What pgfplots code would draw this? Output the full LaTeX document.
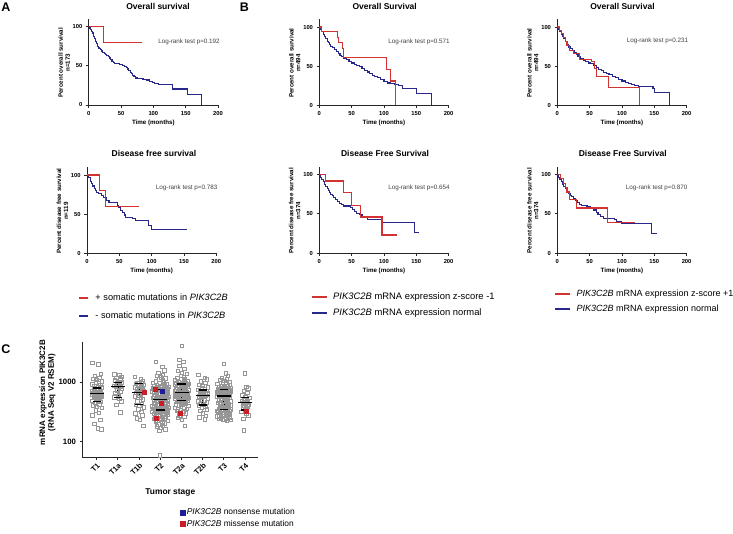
\documentclass[border=0pt]{standalone}
\usepackage{fontspec}
\setmainfont{Liberation Sans}
\usepackage{pgfplots}
\pgfplotsset{compat=1.18}

\definecolor{kmred}{RGB}{210,50,50}
\definecolor{kmblue}{RGB}{40,40,140}
\definecolor{dotgray}{RGB}{150,150,150}
\definecolor{mutred}{RGB}{200,30,40}
\definecolor{mutblue}{RGB}{30,30,150}

\newcommand\ttl{\fontsize{8.5}{10}\selectfont\bfseries}
\newcommand\lbl{\fontsize{6.2}{6.9}\selectfont\bfseries}
\newcommand\tkl{\fontsize{5.8}{7}\selectfont\bfseries}
\newcommand\lrt{\fontsize{6.3}{7}\selectfont}
\newcommand\pnl{\fontsize{12.5}{14}\selectfont\bfseries}

\pgfplotsset{
  km/.style={
    scale only axis, width=129.3pt, height=86.1pt, anchor=south west,
    xmin=0, xmax=200, ymin=0, ymax=110,
    axis lines=left, axis line style={-, line width=0.9pt, black!85},
    xtick={0,50,100,150,200}, ytick={0,50,100},
    tick align=outside, major tick length=2.8pt,
    tick style={line width=0.9pt, black!85},
    ticklabel style={font=\tkl}, /pgf/number format/assume math mode=true,
    xlabel={Time (months)},
    xlabel style={font=\lbl, at={(axis description cs:0.5,-0.21)}, anchor=center},
    ylabel style={font=\lbl, align=center, at={(axis description cs:-0.19,0.49)}, anchor=center},
  },
  kmr/.style={const plot, kmred, line width=1.1pt},
  kmb/.style={const plot, kmblue, line width=1.1pt},
}

\begin{document}
\begin{tikzpicture}
\useasboundingbox (0,0) rectangle (733pt,-533pt);

% ---------- A: overall survival
\begin{axis}[km, at={(88.7pt,-105pt)}, ylabel={Percent overall survival\\n=173}]
\addplot[kmb] coordinates {(0,100)(1,98.8)(2,97.6)(3,96.4)(4,95)(5,93.5)(6,92)(7,89.5)(8,87.5)(9,85.5)(10,83)(11,81)(12,79)(13,77)(14,75)(15,73.5)(16,72)(18,70.5)(20,69)(22,67.5)(24,66)(26,64.5)(28,63)(30,61.5)(32,60)(34,58)(36,56)(38,54.5)(40,53.5)(44,52.5)(48,51.5)(52,50.5)(56,49)(58,47.5)(60,46)(62,44)(64,42)(66,40)(68,38)(70,36)(72,34.5)(76,33.5)(84,33)(90,32)(94,30.5)(98,29)(102,27.5)(108,26.5)(130,20.5)(153,13.5)(175,0)};
\addplot[kmr] coordinates {(0,100)(23,80)(82,80)};
\end{axis}

% ---------- A: disease free survival
\begin{axis}[km, at={(87pt,-253.3pt)}, ylabel={Percent disease free survival\\n=119},
  reverse legend, legend cell align=left,
  legend image code/.code={\draw[#1, line width=2pt] (0pt,0pt) -- (9.6pt,0pt);},
  legend style={at={(axis description cs:-0.072,-0.622)}, anchor=west, draw=none, fill=none,
    inner sep=0pt, font=\fontsize{9.2}{11}\selectfont, row sep=9.3pt, column sep=6pt,
    nodes={inner sep=0pt, text height=7pt, text depth=2pt}}]
\addplot[kmb] coordinates {(0,100)(3,97)(5,92)(7,89)(9,86)(11,83)(13,80)(15,78)(18,76)(22,74)(26,71)(30,68)(34,65)(47,61)(49,58)(52,55)(55,52)(58,49)(60,46)(70,44)(75,42)(95,36)(100,30)(154,30)};
\addlegendentry{- somatic mutations in \textit{PIK3C2B}}
\addplot[kmr] coordinates {(0,100)(19,80)(28,60)(80,60)};
\addlegendentry{+ somatic mutations in \textit{PIK3C2B}}
\end{axis}

% ---------- B: overall survival, z-score -1
\begin{axis}[km, at={(319.3pt,-105.3pt)}, ylabel={Percent overall survival\\n=494}]
\addplot[kmb] coordinates {(0,100)(2,97)(4,94)(6,91)(8,88)(10,85)(12,82)(14,80)(16,77.5)(18,75.5)(20,73.5)(23,71)(26,68.5)(29,66)(32,64)(35,62)(38,60)(42,58)(46,56)(50,54)(54,52.5)(58,51)(62,49)(66,47)(70,44.5)(74,42.5)(78,40.5)(82,38.5)(86,36.5)(90,35)(95,33)(100,30)(105,28.5)(110,27.5)(116,26.5)(122,25.5)(128,22)(150,15.5)(173,0)};
\addplot[kmr] coordinates {(0,100)(4,94)(28,87)(30,80)(36,72)(38,61)(104,46)(110,31)(118,0)};
\end{axis}

% ---------- B: disease free survival, z-score -1
\begin{axis}[km, at={(319.3pt,-253pt)}, ylabel={Percent disease free survival\\n=374},
  reverse legend, legend cell align=left,
  legend image code/.code={\draw[#1, line width=2pt] (0pt,0pt) -- (14.7pt,0pt);},
  legend style={at={(axis description cs:-0.064,-0.607)}, anchor=west, draw=none, fill=none,
    inner sep=0pt, font=\fontsize{9.4}{11}\selectfont, row sep=7pt, column sep=5.3pt,
    nodes={inner sep=0pt, text height=7pt, text depth=2pt}}]
\addplot[kmb] coordinates {(0,100)(2,97)(4,94)(6,91)(8,88)(10,85)(12,82)(14,79.5)(16,77)(18,75)(20,73)(22,71)(25,68.5)(28,66)(31,63.5)(34,61.5)(37,60)(48,58)(51,55.5)(55,53)(58,51)(62,49)(66,47)(70,45)(75,43)(97,39)(147,26)(154,26)};
\addlegendentry{\textit{PIK3C2B} mRNA expression normal}
\addplot[kmr] coordinates {(0,100)(9,92)(38,77)(50,61)(64,46)(97,23)(120,23)};
\addlegendentry{\textit{PIK3C2B} mRNA expression z-score -1}
\end{axis}

% ---------- right: overall survival, z-score +1
\begin{axis}[km, at={(557.3pt,-105.3pt)}, ylabel={Percent overall survival\\n=494}]
\addplot[kmb] coordinates {(0,100)(2,97)(4,94)(6,91)(8,88)(10,85.5)(12,82)(14,79.5)(16,77)(18,74.5)(20,72.5)(23,69.5)(26,67)(29,64.5)(32,62)(36,59.5)(40,57.5)(44,55.5)(48,54)(52,53)(56,51)(60,48.5)(64,46)(68,44)(72,42)(76,40.5)(80,39)(85,37)(90,35)(95,33)(100,31)(105,29.5)(110,28)(115,26.5)(120,25)(125,23.5)(148,21.5)(150,16)(174,0)};
\addplot[kmr] coordinates {(0,100)(3,96)(6,92)(9,87)(12,82)(15,76)(19,70)(25,66)(35,58.5)(53,55.5)(58,47)(61,36.5)(79,23)(127,0)};
\end{axis}

% ---------- right: disease free survival, z-score +1
\begin{axis}[km, at={(557.3pt,-253pt)}, ylabel={Percent disease free survival\\n=374},
  reverse legend, legend cell align=left,
  legend image code/.code={\draw[#1, line width=2pt] (0pt,0pt) -- (14.3pt,0pt);},
  legend style={at={(axis description cs:-0.0255,-0.567)}, anchor=west, draw=none, fill=none,
    inner sep=0pt, font=\fontsize{9}{11}\selectfont, row sep=6pt, column sep=6.2pt,
    nodes={inner sep=0pt, text height=7pt, text depth=2pt}}]
\addplot[kmb] coordinates {(0,100)(2,97)(4,94)(6,91)(8,88)(10,85.5)(12,83)(14,80.5)(16,78.5)(18,76)(20,74)(22,72)(25,69.5)(28,67)(31,64.5)(34,62)(38,61)(46,59.5)(52,57.5)(56,55)(60,52)(63,49.5)(67,46.5)(71,44.5)(89,42.5)(92,40)(99,37.5)(146,24.5)(154,24.5)};
\addlegendentry{\textit{PIK3C2B} mRNA expression normal}
\addplot[kmr] coordinates {(0,100)(5,95)(9,89)(12,84)(15,78)(19,68)(30,57.5)(77,38.5)(120,38.5)};
\addlegendentry{\textit{PIK3C2B} mRNA expression z-score +1}
\end{axis}

% ---------- C: expression by tumour stage
\begin{axis}[at={(82.3pt,-457.3pt)}, anchor=south west, scale only axis,
  width=176pt, height=115pt,
  xmin=-0.68, xmax=7.62, ymode=log, ymin=54.6, ymax=4710,
  axis lines=left, axis line style={-, line width=0.9pt, black!85},
  tick align=outside, major tick length=2.8pt, tick style={line width=0.9pt, black!85},
  yminorticks=false, unbounded coords=jump,
  xtick={0,1,2,3,4,5,6,7}, xticklabels={T1,T1a,T1b,T2,T2a,T2b,T3,T4},
  xticklabel style={rotate=45, anchor=north east, inner sep=1.5pt, font=\fontsize{7.5}{9}\selectfont\bfseries},
  ytick={100,1000}, yticklabels={100,1000},
  yticklabel style={font=\fontsize{7.8}{9}\selectfont\bfseries},
  xlabel={Tumor stage},
  xlabel style={font=\fontsize{8.4}{10}\selectfont\bfseries, at={(axis description cs:0.5,-0.308)}, anchor=center},
  ylabel={mRNA expression PIK3C2B\\(RNA Seq V2 RSEM)},
  ylabel style={font=\fontsize{8}{8.6}\selectfont\bfseries, align=center, at={(axis description cs:-0.198,0.563)}, anchor=center},
  legend cell align=left,
  legend image code/.code={\draw[#1, mark size=2.65pt] plot coordinates {(2.65pt,0pt)};},
  legend style={at={(axis description cs:0.555,-0.531)}, anchor=west, draw=none, fill=none,
    inner sep=0pt, font=\fontsize{8.4}{10}\selectfont, row sep=3.6pt, column sep=1.4pt,
    nodes={inner sep=0pt, text height=6pt, text depth=1.7pt}}]
\addplot[forget plot, only marks, mark=square, mark size=1.7pt, dotgray, line width=0.45pt] coordinates {
(-0.22,2150) (0.08,2000) (0.19,1400) (-0.10,1300) (0.12,1200) (-0.18,1150) (0.01,1100) (0.24,1050) (-0.05,1000) (0.10,960)
(-0.21,930) (0.16,900) (-0.12,870) (0.04,840) (0.21,820) (-0.08,800) (0.15,790) (-0.15,770) (0.06,750) (-0.01,730)
(-0.22,720) (0.08,700) (0.19,690) (-0.10,680) (0.12,670) (-0.18,660) (0.01,650) (0.24,645) (-0.05,640) (0.10,630)
(-0.21,620) (0.16,610) (-0.12,600) (0.04,590) (0.21,580) (-0.08,570) (0.15,560) (-0.15,550) (0.06,530) (-0.01,510)
(-0.22,490) (0.08,480) (0.19,470) (-0.10,450) (0.12,430) (-0.18,410) (0.01,390) (0.24,370) (-0.05,340) (0.10,310)
(-0.21,280) (0.16,235) (-0.12,200) (0.04,168) (0.21,162)
(0.82,1370) (1.06,1330) (1.15,1250) (0.92,1200) (1.10,1130) (0.86,1080) (1.01,1030) (1.19,1000) (0.96,960) (1.08,920)
(0.83,880) (1.13,860) (0.90,843) (1.03,820) (1.17,780) (0.94,740) (1.12,700) (0.88,660) (1.05,620) (0.99,580)
(0.82,560) (1.06,530) (1.15,480) (0.92,420) (1.10,312)
(1.80,1240) (2.07,1150) (2.17,1050) (1.91,980) (2.11,960) (1.85,940) (2.01,920) (2.21,900) (1.96,880) (2.09,850)
(1.81,820) (2.14,780) (1.89,760) (2.03,730) (2.19,710) (1.93,690) (2.13,680) (1.87,660) (2.06,640) (1.99,610)
(1.80,580) (2.07,550) (2.17,520) (1.91,480) (2.11,440) (1.85,420) (2.01,400) (2.21,380) (1.96,350) (2.09,320)
(1.81,300) (2.14,280) (1.89,250) (2.03,232) (2.19,184)
(2.78,2220) (3.08,1830) (3.19,1600) (2.90,1450) (3.12,1350) (2.82,1280) (3.01,1220) (3.24,1170) (2.95,1120) (3.10,1080)
(2.79,1040) (3.16,1010)
(2.64,980) (3.12,955) (3.30,930) (2.84,910) (3.20,890) (2.72,870) (3.02,855) (3.38,840) (2.92,825) (3.16,812)
(2.66,800) (3.26,790) (2.80,780) (3.06,772) (3.34,765) (2.88,760)
(3.22,755) (2.70,748) (3.04,740) (2.86,732) (3.36,725) (2.94,718) (3.14,710) (2.62,702) (3.28,695) (2.78,688)
(3.08,680) (2.68,672) (3.18,665) (2.90,658) (3.32,650) (2.82,642) (3.00,635) (3.24,628) (2.74,620) (3.12,612)
(3.30,605) (2.84,598) (3.20,590) (2.72,582) (3.02,575) (3.38,568) (2.92,560) (3.16,553) (2.66,546) (3.26,540)
(2.80,533) (3.06,526) (3.34,520)
(3.08,514) (2.68,507) (3.18,500) (2.90,493) (3.32,486) (2.82,479) (3.00,472) (3.24,465) (2.74,458) (3.12,451)
(3.22,444) (2.70,437) (3.04,430) (2.86,423) (3.36,416) (2.94,410) (3.14,404) (2.62,398) (3.28,392) (2.78,386)
(2.72,380) (3.02,375) (3.38,370) (2.92,365) (3.16,360) (2.66,356) (3.26,352) (2.80,348) (3.06,344) (3.34,341)
(2.88,338) (3.24,335) (2.76,332)
(2.94,328) (3.14,323) (2.62,318) (3.28,313) (2.78,308) (3.08,303) (2.68,298) (3.18,293) (2.90,288) (3.32,283)
(2.82,278) (3.00,272) (3.24,266) (2.74,260) (3.12,254) (3.22,248) (2.70,242) (3.04,236) (2.86,230) (3.36,224)
(2.78,218) (3.08,212) (3.19,205) (2.90,198) (3.12,190) (2.82,182) (3.01,172) (3.24,163) (2.95,153) (2.97,59)
(4.00,4130) (3.89,2370) (4.08,2200) (3.90,1900) (4.12,1700) (3.82,1550) (4.01,1450) (4.24,1380) (3.95,1300) (4.10,1250)
(3.79,1200) (4.16,1150)
(3.68,1100) (4.11,1070) (4.26,1040) (3.86,1010) (4.18,990) (3.75,975) (4.02,960) (4.33,950) (3.93,940) (4.14,936)
(3.70,925) (4.23,910) (3.82,895) (4.05,880) (4.30,865) (3.89,850) (4.21,835) (3.79,820) (4.09,805) (3.98,790)
(4.19,780) (3.74,770) (4.04,760) (3.88,750) (4.32,740) (3.95,730) (4.12,720) (3.67,710) (4.25,700) (3.81,690)
(4.07,682) (3.72,675) (4.16,668)
(3.91,660) (4.28,652) (3.84,645) (4.00,637) (4.21,630) (3.77,622) (4.11,615) (3.68,607) (4.11,600) (4.26,592)
(3.86,585) (4.18,577) (3.75,570) (4.02,562) (4.33,555) (3.93,547) (4.14,540) (3.70,532) (4.23,525) (3.82,517)
(4.05,510) (4.30,500) (3.89,490)
(4.21,480) (3.79,470) (4.09,460) (3.98,450) (4.19,440) (3.74,430) (4.04,420) (3.88,410) (4.32,400) (3.95,390)
(4.12,380) (3.67,370) (4.25,360) (3.81,350) (3.78,335) (4.08,320) (4.19,300) (3.90,280) (4.12,265) (3.82,254)
(4.01,232) (4.14,184)
(4.78,1330) (5.08,1200) (5.19,1120) (4.90,1050) (5.12,980) (4.82,920) (5.01,870) (5.24,830) (4.95,800) (5.10,770)
(4.79,742) (5.16,725) (4.88,705) (5.04,690) (5.21,675) (4.92,660) (5.15,645) (4.85,630) (5.06,618) (4.99,605)
(5.14,595) (4.81,580) (5.03,565) (4.91,550) (5.23,535) (4.96,520) (5.09,500) (4.76,480) (5.18,460) (4.86,440)
(5.05,420) (4.80,405) (5.11,390) (4.94,370) (5.20,350) (4.89,330) (5.00,300) (5.15,275) (4.84,260) (5.08,240)
(6.00,2030) (6.08,1420) (6.19,1300) (5.90,1200) (6.12,1150) (5.82,1100) (6.01,1060) (6.24,1030) (5.95,1000) (6.10,975)
(5.68,950) (6.11,925) (6.26,900) (5.86,880) (6.18,860) (5.75,845) (6.02,830) (6.33,815) (5.93,800) (6.14,790)
(5.70,780) (6.23,772) (5.82,766) (6.05,762) (6.30,758)
(6.19,750) (5.74,740) (6.04,730) (5.88,720) (6.32,710) (5.95,700) (6.12,692) (5.67,684) (6.25,676) (5.81,668)
(6.07,660) (5.72,652) (6.16,645) (5.91,638) (6.28,631) (5.84,624) (6.00,617) (6.21,610) (5.77,604) (6.11,598)
(5.89,593) (6.27,589) (5.79,585) (6.09,581) (5.98,577)
(5.68,570) (6.11,560) (6.26,545) (5.86,530) (6.18,515) (5.75,500) (6.02,490) (6.33,480) (5.93,470) (6.14,460)
(5.70,450) (6.23,440) (5.82,430) (6.05,420) (6.30,412) (5.89,404) (6.21,396) (5.79,388) (6.09,380) (5.98,374)
(6.19,368) (5.74,362) (6.04,357) (5.88,353) (6.32,350)
(5.95,345) (6.12,340) (5.67,335) (6.25,330) (5.81,325) (6.07,320) (5.72,315) (6.16,310) (5.91,305) (6.28,300)
(5.84,295) (6.00,290) (6.21,285) (5.77,280) (6.11,275) (5.68,270) (6.17,265) (6.26,260) (5.86,255) (6.18,250)
(5.75,245) (6.02,240) (6.33,236) (5.93,232) (6.14,228)
(6.97,1415) (7.06,845) (7.15,790) (6.92,720) (7.10,660) (6.86,610) (7.01,570) (7.19,551) (6.96,530) (7.08,510)
(6.83,490) (7.13,470) (6.90,454) (7.03,440) (7.17,425) (6.94,410) (7.12,395) (6.88,380) (7.05,360) (6.99,342)
(6.82,320) (7.06,300) (7.15,280) (6.90,241) (6.92,157)
};
% interquartile range: whiskers, caps and medians
\addplot[forget plot, black, line width=1.2pt] coordinates {
(0,479)(0,803) (0,nan) (1,559)(1,1000) (1,nan) (2,426)(2,962) (2,nan) (3,342)(3,762) (3,nan)
(4,490)(4,936) (4,nan) (5,415)(5,742) (5,nan) (6,351)(6,762) (6,nan) (7,342)(7,551)};
\addplot[forget plot, black, only marks, mark=-, mark size=4.2pt, mark options={line width=1.2pt}] coordinates {
(0,479)(0,803)(1,559)(1,1000)(2,426)(2,962)(3,342)(3,762)(4,490)(4,936)(5,415)(5,742)(6,351)(6,762)(7,342)(7,551)};
\addplot[forget plot, black, only marks, mark=-, mark size=7pt, mark options={line width=1.4pt}] coordinates {
(0,645)(1,843)(2,680)(3,518)(4,668)(5,605)(6,589)(7,454)};
\addplot[only marks, mark=square*, mark size=2.1pt, mark options={draw=mutblue, fill=mutblue}] coordinates {(3.10,700)};
\addlegendentry{\textit{PIK3C2B} nonsense mutation}
\addplot[only marks, mark=square*, mark size=2.1pt, mark options={draw=mutred, fill=mutred}] coordinates {(2.75,760) (3.05,440) (2.80,250) (2.24,680) (3.92,300) (7.04,330)};
\addlegendentry{\textit{PIK3C2B} missense mutation}
\end{axis}

% ---------- titles, test results, panel letters
\node[font=\ttl] at (158pt,-6.7pt) {Overall survival};
\node[font=\ttl] at (154pt,-153pt) {Disease free survival};
\node[font=\ttl] at (384.7pt,-6.7pt) {Overall Survival};
\node[font=\ttl] at (385pt,-153pt) {Disease Free Survival};
\node[font=\ttl] at (622.5pt,-6.7pt) {Overall Survival};
\node[font=\ttl] at (622.7pt,-153pt) {Disease Free Survival};

\node[font=\lrt, text=black!75] at (189pt,-42pt) {Log-rank test p=0.192};
\node[font=\lrt, text=black!75] at (186.7pt,-188.3pt) {Log-rank test p=0.783};
\node[font=\lrt, text=black!75] at (419pt,-41.7pt) {Log-rank test p=0.571};
\node[font=\lrt, text=black!75] at (419pt,-188.3pt) {Log-rank test p=0.654};
\node[font=\lrt, text=black!75] at (657.5pt,-41pt) {Log-rank test p=0.231};
\node[font=\lrt, text=black!75] at (656.7pt,-188.3pt) {Log-rank test p=0.870};

\node[font=\pnl] at (6pt,-7.5pt) {A};
\node[font=\pnl] at (244.5pt,-7.5pt) {B};
\node[font=\pnl] at (6pt,-349pt) {C};
\end{tikzpicture}
\end{document}
